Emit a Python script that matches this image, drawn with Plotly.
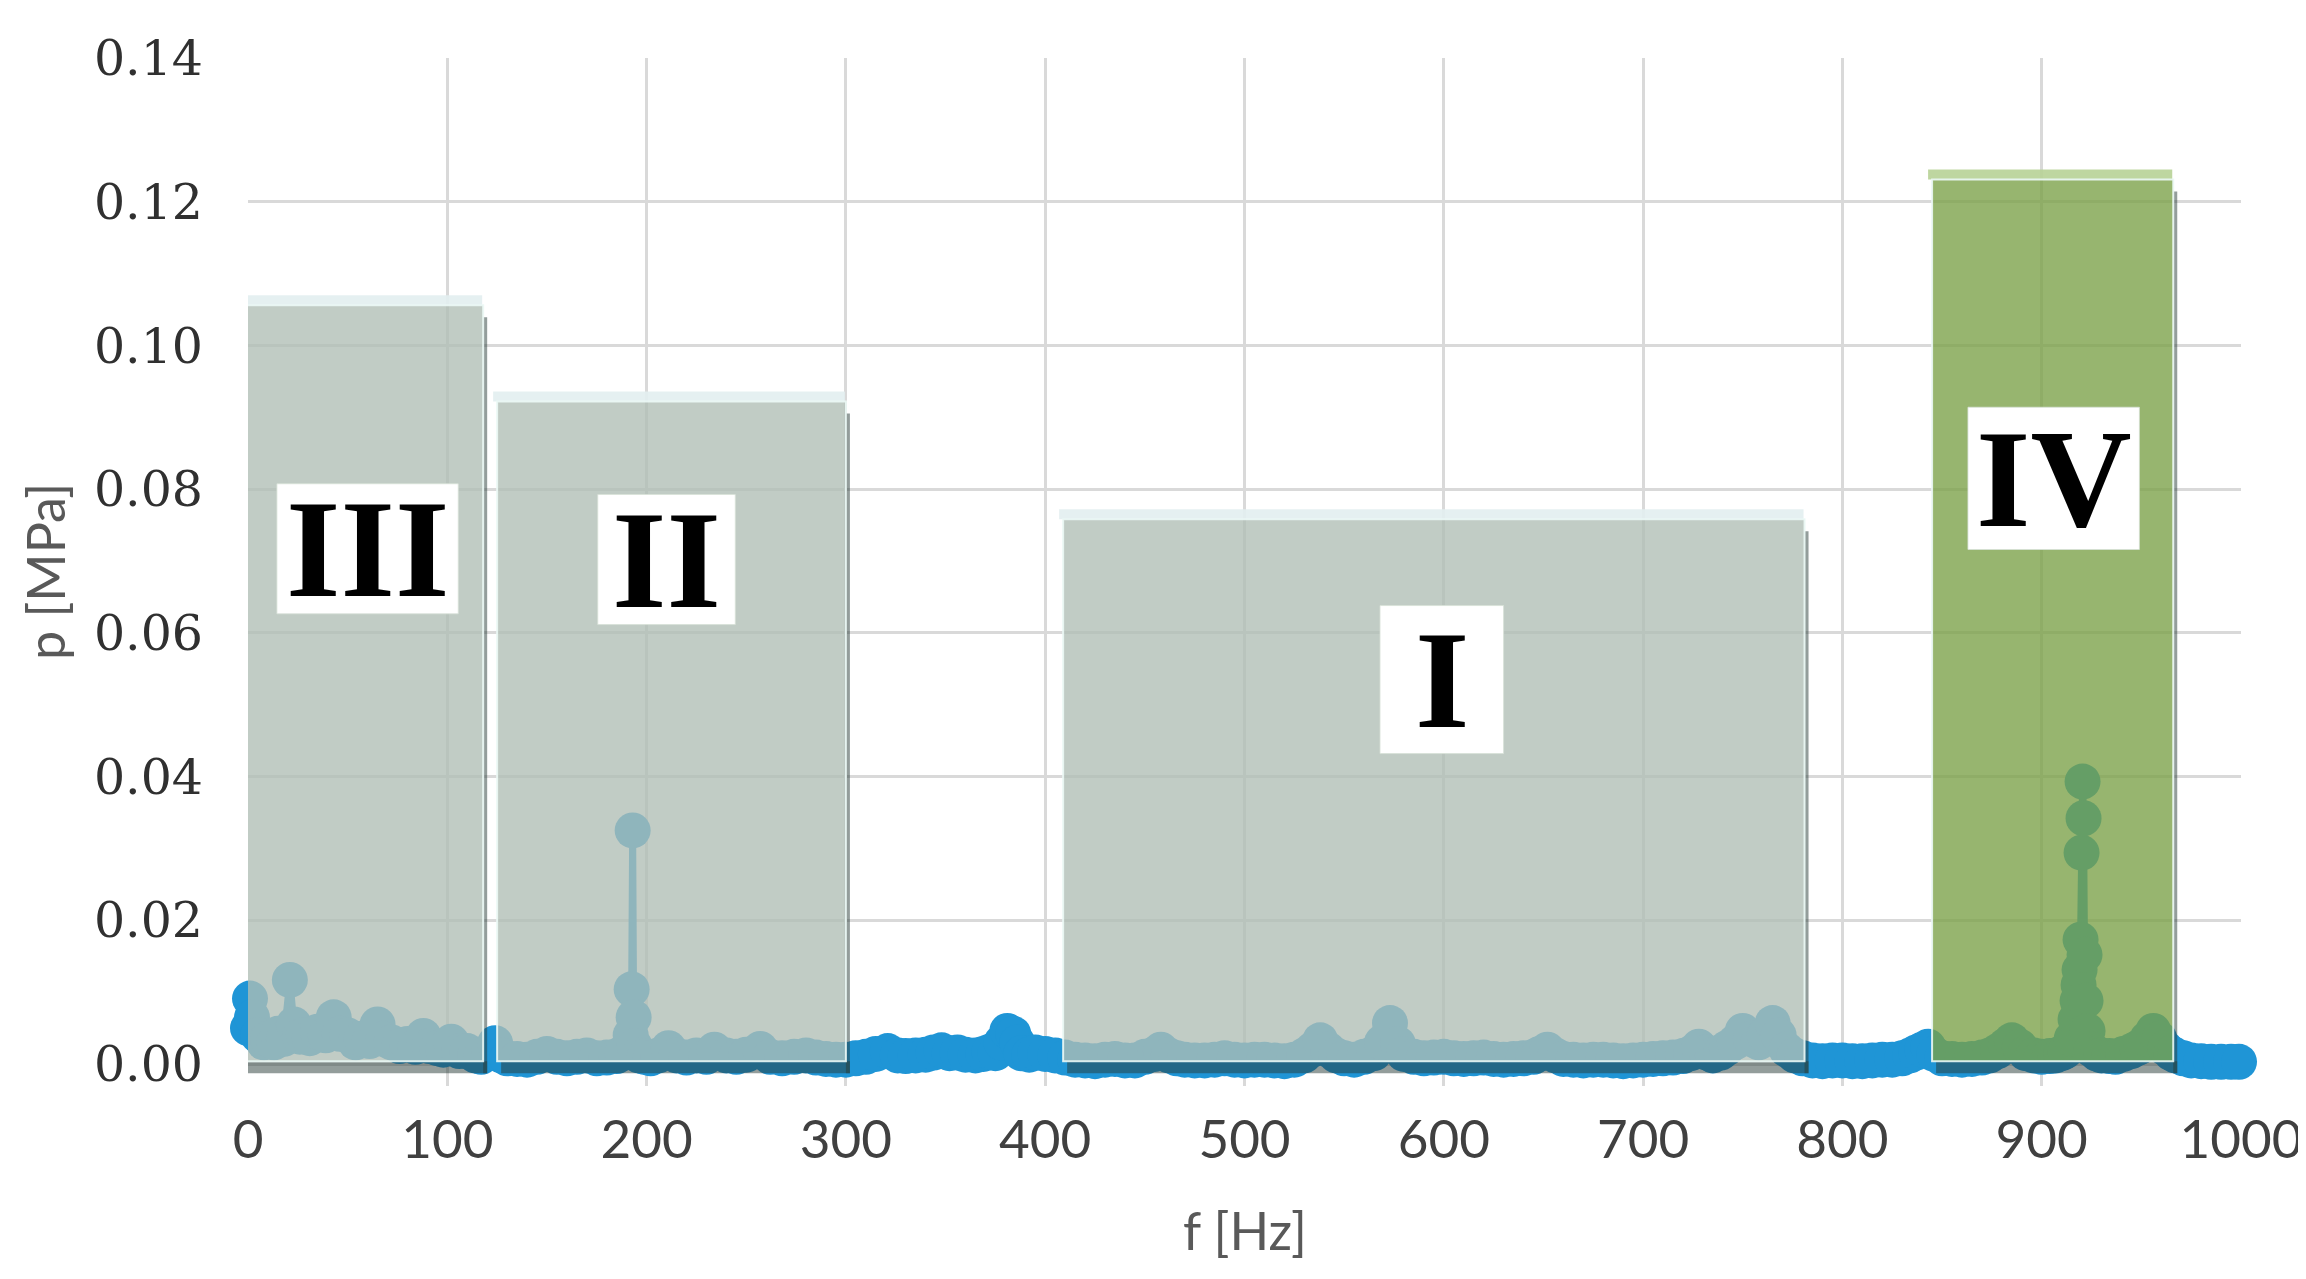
import plotly.graph_objects as go

# ---------------- data ----------------
freq_a = [0, 1, 2, 5, 8, 10, 13, 15, 18, 21, 23, 26, 28, 31, 35, 39, 43, 46, 50, 54,
          57, 61, 65, 68, 72, 76, 80, 84, 88, 91, 95, 98, 102, 106, 110, 114, 117, 121, 124, 127, 130]
p_a = [0.0050, 0.0091, 0.0065, 0.0040, 0.0030, 0.0035, 0.0030, 0.0042, 0.0035, 0.0117,
       0.0055, 0.0038, 0.0040, 0.0036, 0.0045, 0.0040, 0.0065, 0.0042, 0.0040, 0.0030,
       0.0035, 0.0032, 0.0055, 0.0035, 0.0030, 0.0025, 0.0028, 0.0024, 0.0039, 0.0025,
       0.0022, 0.0020, 0.0031, 0.0018, 0.0018, 0.0012, 0.0010, 0.0015, 0.0029, 0.0012, 0.0008]

freq_b = [135, 140, 145, 150, 155, 160, 165, 170, 175, 180, 185, 188, 192, 192.5, 193, 193.5, 194, 196, 199, 202,
          206, 211, 215, 220, 225, 230, 234, 240, 245, 250, 257, 262, 268, 274, 280, 285, 290, 295]
p_b = [0.0007, 0.0006, 0.0010, 0.0014, 0.0010, 0.0008, 0.0010, 0.0012, 0.0008, 0.0009,
       0.0011, 0.0015, 0.0040, 0.0104, 0.0325, 0.0065, 0.0025, 0.0012, 0.0010, 0.0008,
       0.0012, 0.0022, 0.0012, 0.0009, 0.0012, 0.0010, 0.0020, 0.0012, 0.0010, 0.0013,
       0.0021, 0.0010, 0.0008, 0.0010, 0.0012, 0.0009, 0.0007, 0.0006]

freq_c = [300, 305, 310, 315, 321, 326, 330, 335, 340, 344, 348, 352, 356, 360, 365, 369, 372, 375, 378, 381,
          384, 386, 388, 392, 395, 400, 405, 410]
p_c = [0.0006, 0.0008, 0.0010, 0.0014, 0.0018, 0.0012, 0.0011, 0.0012, 0.0013, 0.0016,
       0.0019, 0.0015, 0.0016, 0.0013, 0.0012, 0.0014, 0.0017, 0.0015, 0.0030, 0.0046,
       0.0042, 0.0030, 0.0015, 0.0013, 0.0016, 0.0014, 0.0012, 0.0009]

freq_d = [415, 420, 425, 430, 435, 440, 445, 450, 455, 458, 462, 466, 470, 475, 480, 485, 490, 495, 500, 505,
          510, 515, 520, 525, 530, 534, 538, 542, 546, 550, 555, 560, 565, 569, 573, 577, 580, 585, 590, 595,
          600, 605, 610, 615, 620, 625, 630, 635, 640, 645, 648, 652, 656, 660, 665, 670, 675, 680, 685, 690,
          695, 700, 705, 710, 715, 720, 724, 728, 732, 735, 739, 742, 746, 750, 754, 758, 761, 765, 768, 772,
          776, 780]
p_d = [0.0006, 0.0005, 0.0004, 0.0006, 0.0007, 0.0005, 0.0005, 0.0010, 0.0014, 0.0020,
       0.0012, 0.0008, 0.0006, 0.0005, 0.0005, 0.0006, 0.0008, 0.0006, 0.0005, 0.0006,
       0.0006, 0.0005, 0.0004, 0.0006, 0.0012, 0.0020, 0.0033, 0.0020, 0.0012, 0.0008,
       0.0006, 0.0010, 0.0015, 0.0030, 0.0057, 0.0028, 0.0014, 0.0010, 0.0008, 0.0009,
       0.0010, 0.0008, 0.0007, 0.0008, 0.0009, 0.0007, 0.0006, 0.0007, 0.0008, 0.0010,
       0.0014, 0.0020, 0.0012, 0.0007, 0.0006, 0.0005, 0.0006, 0.0006, 0.0005, 0.0004,
       0.0005, 0.0006, 0.0007, 0.0008, 0.0009, 0.0011, 0.0015, 0.0024, 0.0016, 0.0012,
       0.0016, 0.0022, 0.0030, 0.0046, 0.0035, 0.0030, 0.0040, 0.0057, 0.0040, 0.0020,
       0.0012, 0.0008]

freq_e = [785, 790, 795, 800, 805, 810, 815, 820, 825, 830, 834, 837, 840, 843, 846, 850, 855, 860, 865, 870,
          874, 878, 882, 885, 889, 892, 896, 900, 904, 907, 910, 912, 915, 917, 918, 918.5, 919, 919.5, 920, 920.5,
          921, 921.5, 922, 923, 925, 928, 930, 934, 937, 941, 945, 948, 950, 953, 956, 959, 962, 965, 967, 971,
          975, 980, 985, 990, 995, 999]
p_e = [0.0005, 0.0004, 0.0005, 0.0005, 0.0004, 0.0004, 0.0005, 0.0006, 0.0006, 0.0008,
       0.0012, 0.0016, 0.0020, 0.0024, 0.0014, 0.0008, 0.0007, 0.0006, 0.0007, 0.0009,
       0.0012, 0.0018, 0.0026, 0.0033, 0.0024, 0.0015, 0.0012, 0.0010, 0.0011, 0.0012,
       0.0015, 0.0018, 0.0035, 0.0062, 0.0088, 0.0110, 0.0131, 0.0173, 0.0294, 0.0393,
       0.0342, 0.0152, 0.0088, 0.0046, 0.0020, 0.0014, 0.0012, 0.0011, 0.0010, 0.0014,
       0.0018, 0.0022, 0.0025, 0.0035, 0.0046, 0.0035, 0.0022, 0.0015, 0.0012, 0.0008,
       0.0005, 0.0004, 0.0003, 0.0003, 0.0003, 0.0003]

freq_hz = freq_a + freq_b + freq_c + freq_d + freq_e
pressure_mpa = p_a + p_b + p_c + p_d + p_e

# shaded frequency regions
region_names = ["III", "II", "I", "IV"]
region_f_start = [-6, 125, 409, 845]
region_f_end = [118, 300, 781, 966]
region_p_top = [0.1056, 0.0922, 0.0758, 0.1231]
region_p_bottom = 0.0004
label_f = [60, 210, 599, 906]
label_p = [0.0717, 0.0702, 0.0535, 0.0815]
label_w_hz = [91, 69, 62, 86]
label_h_mpa = [0.0181, 0.0181, 0.0206, 0.0198]

x_ticks = [0, 100, 200, 300, 400, 500, 600, 700, 800, 900, 1000]
y_ticks = [0.00, 0.02, 0.04, 0.06, 0.08, 0.10, 0.12, 0.14]

# ---------------- styling ----------------
W, H = 2306, 1279
ML, MR = 240, 73
TOP_PX, ZERO_PX, BOTTOM_PX = 50, 1056, 1078
MT, MB = TOP_PX, H - BOTTOM_PX
Y_MIN = -(BOTTOM_PX - ZERO_PX) * 0.14 / (ZERO_PX - TOP_PX)
plot_w = W - ML - MR
plot_h = H - MT - MB
HZ_PER_PX = 1000 / plot_w
MPA_PER_PX = (0.14 - Y_MIN) / plot_h

BLUE = "#1F95D6"
GRAY_FILL = "rgba(175,190,181,0.78)"
GRAY_GLOW = "rgba(226,238,240,0.9)"
GREEN_FILL = "rgba(122,160,71,0.78)"
GREEN_GLOW = "rgba(183,210,150,0.9)"
SHADOW = "rgba(40,60,55,0.5)"

fig = go.Figure()
fig.add_trace(go.Scatter(
    x=freq_hz, y=pressure_mpa, mode="lines+markers",
    line=dict(color=BLUE, width=7),
    marker=dict(color=BLUE, size=36, line=dict(width=0)),
    cliponaxis=False, showlegend=False, hoverinfo="x+y",
))

shapes = []
for i, name in enumerate(region_names):
    x0, x1 = region_f_start[i], region_f_end[i]
    top = region_p_top[i]
    bot = region_p_bottom
    fill = GREEN_FILL if name == "IV" else GRAY_FILL
    glow = GREEN_GLOW if name == "IV" else GRAY_GLOW
    dx = 4 * HZ_PER_PX
    dy = 12 * MPA_PER_PX
    # drop shadow (visible parts only: bottom and right strips)
    shapes.append(dict(type="rect", xref="x", yref="y", layer="above",
                       x0=x0 + dx, x1=x1 + dx, y0=bot - dy, y1=bot,
                       fillcolor=SHADOW, line=dict(width=0)))
    shapes.append(dict(type="rect", xref="x", yref="y", layer="above",
                       x0=x1, x1=x1 + dx, y0=bot - dy, y1=top - dy,
                       fillcolor=SHADOW, line=dict(width=0)))
    # soft light band along the top edge
    shapes.append(dict(type="rect", xref="x", yref="y", layer="above",
                       x0=x0 - 4 * HZ_PER_PX, x1=x1 - 1 * HZ_PER_PX, y0=top, y1=top + 10 * MPA_PER_PX,
                       fillcolor=glow, line=dict(width=0)))
    # main translucent block
    shapes.append(dict(type="rect", xref="x", yref="y", layer="above",
                       x0=x0, x1=x1, y0=bot, y1=top,
                       fillcolor=fill, line=dict(color="rgba(235,248,245,0.9)", width=2)))

annotations = []
for i, name in enumerate(region_names):
    cx, cy = label_f[i], label_p[i]
    w, h = label_w_hz[i], label_h_mpa[i]
    shapes.append(dict(type="rect", xref="x", yref="y", layer="above",
                       x0=cx - w / 2, x1=cx + w / 2, y0=cy - h / 2, y1=cy + h / 2,
                       fillcolor="white", line=dict(color="rgba(215,225,215,0.8)", width=1)))
    annotations.append(dict(x=cx, y=cy, xref="x", yref="y", text=name, showarrow=False,
                            xanchor="center", yanchor="middle",
                            font=dict(family="Liberation Serif", size=140, color="black", weight="bold")))

# axis titles
annotations.append(dict(x=(37 - ML) / plot_w, y=0.5, xref="paper", yref="paper", text="p [MPa]",
                        textangle=-90, showarrow=False, xanchor="center", yanchor="middle",
                        font=dict(family="Lato", size=52, color="#595959")))
annotations.append(dict(x=0.5, y=(BOTTOM_PX - 1222) / plot_h, xref="paper", yref="paper", text="f [Hz]",
                        showarrow=False, xanchor="center", yanchor="middle",
                        font=dict(family="Lato", size=52, color="#595959")))

fig.update_layout(
    width=W, height=H,
    margin=dict(l=ML, r=MR, t=MT, b=MB, autoexpand=False),
    paper_bgcolor="white", plot_bgcolor="white",
    shapes=shapes, annotations=annotations,
    showlegend=False,
)
fig.update_xaxes(
    range=[0, 1000], tickvals=x_ticks, ticktext=[str(v) for v in x_ticks],
    showgrid=True, gridcolor="#D9D9D9", gridwidth=3, zeroline=False, showline=False,
    ticks="", ticklabelstandoff=18,
    tickfont=dict(family="Lato", size=53, color="#404040"),
)
fig.update_yaxes(
    range=[Y_MIN, 0.14], tickvals=y_ticks, ticktext=[f"{v:.2f}" for v in y_ticks],
    showgrid=True, gridcolor="#D9D9D9", gridwidth=3, zeroline=False, showline=False,
    ticks="", ticklabelstandoff=44,
    tickfont=dict(family="DejaVu Serif", size=49, color="#303030"),
)

fig.write_html("out.html")
